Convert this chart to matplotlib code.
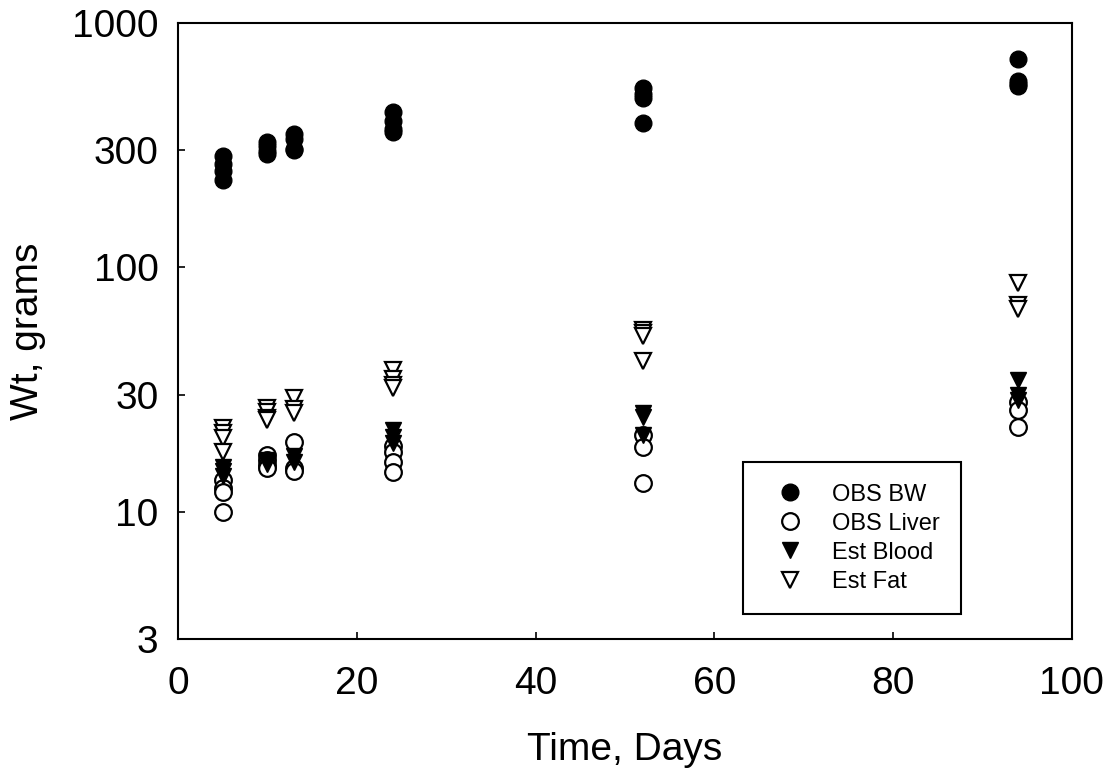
import numpy as np
import matplotlib
matplotlib.use('Agg')
import matplotlib.pyplot as plt
from matplotlib.ticker import FixedLocator, NullLocator, FixedFormatter

plt.rcParams['font.family'] = ['Liberation Sans', 'DejaVu Sans']

# sampling days
bw_days = [5]*4 + [10]*4 + [13]*4 + [24]*4 + [52]*4 + [94]*4
bw = [285, 265, 248, 228,
      325, 312, 298, 290,
      352, 335, 305, 300,
      430, 395, 368, 358,
      540, 512, 492, 390,
      708, 580, 562, 550]

liver_days = [5]*4 + [10]*4 + [13]*3 + [24]*4 + [52]*3 + [94]*3
liver = [13.5, 12.5, 12.0, 10.0,
         17.0, 16.2, 15.5, 15.0,
         19.2, 15.0, 14.6,
         18.5, 17.5, 16.0, 14.5,
         20.5, 18.4, 13.1,
         28.0, 26.0, 22.2]

blood_days = [5]*3 + [10]*2 + [13]*2 + [24]*3 + [52]*3 + [94]*3
blood = [15.2, 14.6, 14.0,
         16.2, 15.6,
         16.8, 16.0,
         21.6, 20.2, 19.0,
         25.4, 24.4, 20.6,
         34.5, 30.0, 28.6]

fat_days = [5]*4 + [10]*4 + [13]*3 + [24]*4 + [52]*4 + [94]*3
fat = [22.0, 21.0, 20.0, 17.6,
       26.6, 25.6, 24.2, 23.6,
       29.2, 26.2, 25.4,
       38.0, 35.0, 33.0, 32.0,
       55.4, 53.5, 52.3, 41.3,
       86.0, 70.0, 67.5]

xticks = [0, 20, 40, 60, 80, 100]
yticks = [3, 10, 30, 100, 300, 1000]

fig = plt.figure(figsize=(11.09, 7.74), dpi=100)
ax = fig.add_axes([0.1605, 0.174, 0.806, 0.7967])

ms = 12
ax.plot(bw_days, bw, 'o', color='black', ms=ms, label='OBS BW')
ax.plot(liver_days, liver, 'o', mfc='white', mec='black', mew=1.6, ms=ms, label='OBS Liver')
ax.plot(blood_days, blood, 'v', color='black', ms=ms, label='Est Blood')
ax.plot(fat_days, fat, 'v', mfc='white', mec='black', mew=1.6, ms=ms, label='Est Fat')

ax.set_yscale('log')
ax.set_xlim(0, 100)
ax.set_ylim(3, 1000)
ax.xaxis.set_major_locator(FixedLocator(xticks))
ax.yaxis.set_major_locator(FixedLocator(yticks))
ax.yaxis.set_major_formatter(FixedFormatter([str(t) for t in yticks]))
ax.yaxis.set_minor_locator(NullLocator())
ax.tick_params(direction='in', length=5, width=1.2, labelsize=28)
ax.tick_params(axis='x', pad=19)
ax.tick_params(axis='y', pad=14)
for s in ax.spines.values():
    s.set_linewidth(1.5)

ax.set_xlabel('Time, Days', fontsize=28)
ax.set_ylabel('Wt, grams', fontsize=28)
ax.xaxis.set_label_coords(0.5, -0.15)
ax.yaxis.set_label_coords(-0.148, 0.5)

leg = ax.legend(loc='lower left', bbox_to_anchor=(0.632, 0.041), fontsize=17,
                frameon=True, fancybox=False, edgecolor='black', framealpha=1,
                borderpad=0.9, labelspacing=0.3, handletextpad=0.72,
                handlelength=2.15, borderaxespad=0, markerscale=1.0)
leg.get_frame().set_linewidth(1.5)

fig.savefig('out.png', dpi=100)
